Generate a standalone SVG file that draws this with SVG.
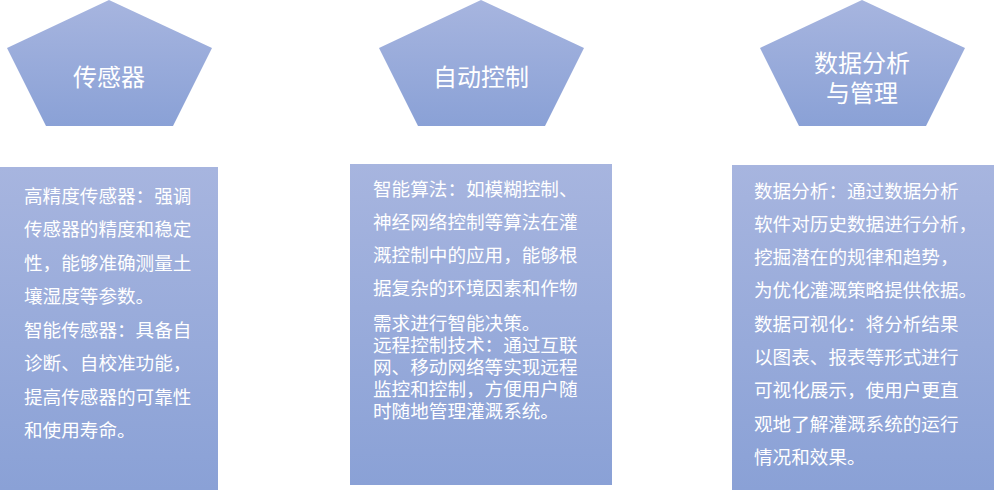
<svg xmlns="http://www.w3.org/2000/svg" width="994" height="490" viewBox="0 0 994 490">
<defs>
<linearGradient id="g" x1="0" y1="0" x2="0" y2="1"><stop offset="0" stop-color="#a7b5df"/><stop offset="1" stop-color="#8aa1d6"/></linearGradient>
<style>
text{font-family:"Noto Sans CJK SC","Liberation Sans",sans-serif;fill:#fff}
.t{font-size:24px;text-anchor:middle}
.b{font-size:18.6px}
</style>
</defs>
<g id="n1">
<polygon points="109,0 212,48 173,126 46,126 7,48" fill="url(#g)"/>
<text class="t" x="109" y="86">传感器</text>
</g>
<g id="n2">
<polygon points="481,0 584,48 545,126 418,126 379,48" fill="url(#g)"/>
<text class="t" x="481" y="86">自动控制</text>
</g>
<g id="n3">
<polygon points="862,0 965,48 926,126 799,126 760,48" fill="url(#g)"/>
<text class="t" x="862" y="72">数据分析</text>
<text class="t" x="862" y="102">与管理</text>
</g>
<g id="b1">
<rect x="0" y="167" width="218" height="323" fill="url(#g)"/>
<text class="b" x="24" y="203">高精度传感器：强调</text>
<text class="b" x="24" y="236">传感器的精度和稳定</text>
<text class="b" x="24" y="270">性，能够准确测量土</text>
<text class="b" x="24" y="303">壤湿度等参数。</text>
<text class="b" x="24" y="337">智能传感器：具备自</text>
<text class="b" x="24" y="370">诊断、自校准功能，</text>
<text class="b" x="24" y="404">提高传感器的可靠性</text>
<text class="b" x="24" y="437">和使用寿命。</text>
</g>
<g id="b2">
<rect x="350" y="164" width="262" height="321" fill="url(#g)"/>
<text class="b" x="373" y="196">智能算法：如模糊控制、</text>
<text class="b" x="373" y="229">神经网络控制等算法在灌</text>
<text class="b" x="373" y="262">溉控制中的应用，能够根</text>
<text class="b" x="373" y="295">据复杂的环境因素和作物</text>
<text class="b" x="373" y="330">需求进行智能决策。</text>
<text class="b" x="373" y="352">远程控制技术：通过互联</text>
<text class="b" x="373" y="374">网、移动网络等实现远程</text>
<text class="b" x="373" y="396">监控和控制，方便用户随</text>
<text class="b" x="373" y="418">时随地管理灌溉系统。</text>
</g>
<g id="b3">
<rect x="732" y="165" width="262" height="325" fill="url(#g)"/>
<text class="b" x="754" y="198">数据分析：通过数据分析</text>
<text class="b" x="754" y="231">软件对历史数据进行分析，</text>
<text class="b" x="754" y="264">挖掘潜在的规律和趋势，</text>
<text class="b" x="754" y="297">为优化灌溉策略提供依据。</text>
<text class="b" x="754" y="331">数据可视化：将分析结果</text>
<text class="b" x="754" y="364">以图表、报表等形式进行</text>
<text class="b" x="754" y="397">可视化展示，使用户更直</text>
<text class="b" x="754" y="431">观地了解灌溉系统的运行</text>
<text class="b" x="754" y="464">情况和效果。</text>
</g>
<g id="connectors"/>
</svg>
